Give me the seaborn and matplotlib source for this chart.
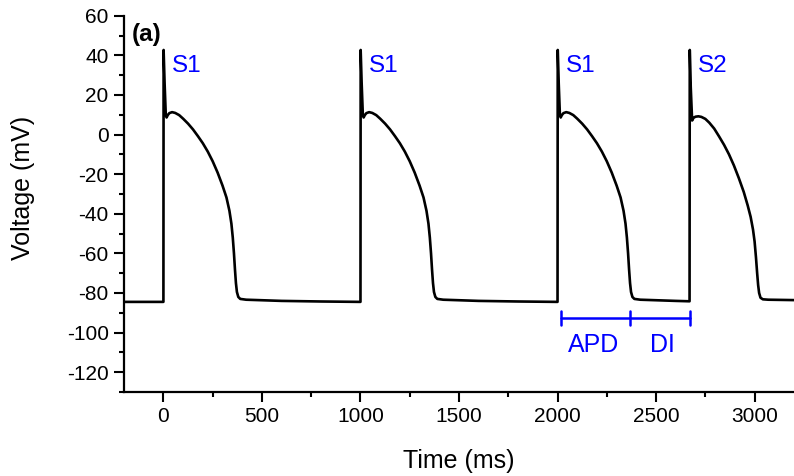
import numpy as np
import pandas as pd
import matplotlib
matplotlib.use("Agg")
import matplotlib.pyplot as plt
from matplotlib.ticker import MultipleLocator
import seaborn as sns

# ---- data ----
# S1 action potential template (time after stimulus in ms, voltage in mV)
s1_t = [0, 1, 6, 12, 16, 22, 30, 44, 60, 80, 100, 125, 150, 175, 200, 225,
        250, 275, 300, 320, 335, 345, 352, 358, 363, 368, 373, 380, 390, 420,
        600, 800]
s1_v = [-84.5, 42.7, 26, 10, 8.6, 9.8, 10.8, 11.3, 10.9, 9.8, 8.0, 5.5, 2.6,
        -0.8, -4.4, -8.6, -13.5, -19.2, -25.8, -31.8, -38.5, -45, -52, -60,
        -68, -75, -79.5, -82, -83, -83.4, -84, -84.3]
# S2 action potential template
s2_t = [0, 1, 6, 13, 20, 30, 45, 60, 80, 100, 125, 150, 175, 200, 225, 250,
        275, 295, 310, 322, 330, 337, 343, 348, 353, 360, 372, 400, 530]
s2_v = [-84.2, 42.7, 24, 7.1, 8.4, 9.0, 9.2, 8.9, 7.9, 6.0, 3.0, -1.0, -5.2,
        -10, -15.6, -22, -29, -35.8, -41.6, -48, -54, -62, -70, -76, -80,
        -82.4, -83.2, -83.4, -83.6]
s1_onsets = [0, 1000, 2000]
s2_onset = 2670
rest_start = (-200, -84.5)
x_end = 3200

stim_labels = ["S1", "S1", "S1", "S2"]
label_dt = 42
label_v = 31.5

apd_bar = [2020, 2366, 2670]
bar_v = -92.5
apd_text = [("APD", 2184), ("DI", 2532)]
text_v = -110

# ---- build trace ----
times = [rest_start[0]]
volts = [rest_start[1]]
next_onsets = s1_onsets[1:] + [s2_onset]
for on, nxt in zip(s1_onsets, next_onsets):
    for t, v in zip(s1_t, s1_v):
        if on + t < nxt:
            times.append(on + t)
            volts.append(v)
for t, v in zip(s2_t, s2_v):
    if s2_onset + t <= x_end:
        times.append(s2_onset + t)
        volts.append(v)
df = pd.DataFrame({"Time": times, "Voltage": volts})

# ---- style ----
sns.set_theme(style="ticks")
plt.rcParams["font.family"] = ["Liberation Sans", "DejaVu Sans"]
plt.rcParams["axes.unicode_minus"] = False

fig = plt.figure(figsize=(7.94, 4.76), dpi=100)
ax = fig.add_axes([124 / 794, 84 / 476, 670 / 794, 376.3 / 476])

sns.lineplot(data=df, x="Time", y="Voltage", ax=ax, color="black",
             linewidth=1.9, sort=False, estimator=None)
ax.lines[0].set_solid_joinstyle("round")

ax.set_xlim(-200, 3200)
ax.set_ylim(-130, 60)
ax.xaxis.set_major_locator(MultipleLocator(500))
ax.xaxis.set_minor_locator(MultipleLocator(250))
ax.yaxis.set_major_locator(MultipleLocator(20))
ax.yaxis.set_minor_locator(MultipleLocator(10))

for s in ["top", "right"]:
    ax.spines[s].set_visible(False)
for s in ["left", "bottom"]:
    ax.spines[s].set_linewidth(1.6)
    ax.spines[s].set_color("black")

ax.tick_params(which="major", direction="out", length=7, width=1.5,
               labelsize=15, pad=4, colors="black")
ax.tick_params(which="minor", direction="out", length=3.5, width=1.5,
               colors="black")

ax.set_xlabel("Time (ms)", fontsize=18, va="center", color="black")
ax.set_ylabel("Voltage (mV)", fontsize=18, va="center", color="black")
ax.xaxis.set_label_coords(0.5, -0.183)
ax.yaxis.set_label_coords(-0.151, 0.542)

blue = "#0000FF"
for on, lab in zip(s1_onsets + [s2_onset], stim_labels):
    ax.text(on + label_dt, label_v, lab, color=blue, fontsize=17.5,
            ha="left", va="baseline")

ax.text(-160, 47, "(a)", fontsize=17.5, fontweight="bold", ha="left",
        va="baseline", color="black")

ax.plot([apd_bar[0], apd_bar[-1]], [bar_v, bar_v], color=blue, linewidth=1.8)
for xb in apd_bar:
    ax.plot([xb, xb], [bar_v - 3.6, bar_v + 3.6], color=blue, linewidth=1.8)
for lab, xt in apd_text:
    ax.text(xt, text_v, lab, color=blue, fontsize=18, ha="center",
            va="baseline")

fig.savefig("out.png", dpi=100)
